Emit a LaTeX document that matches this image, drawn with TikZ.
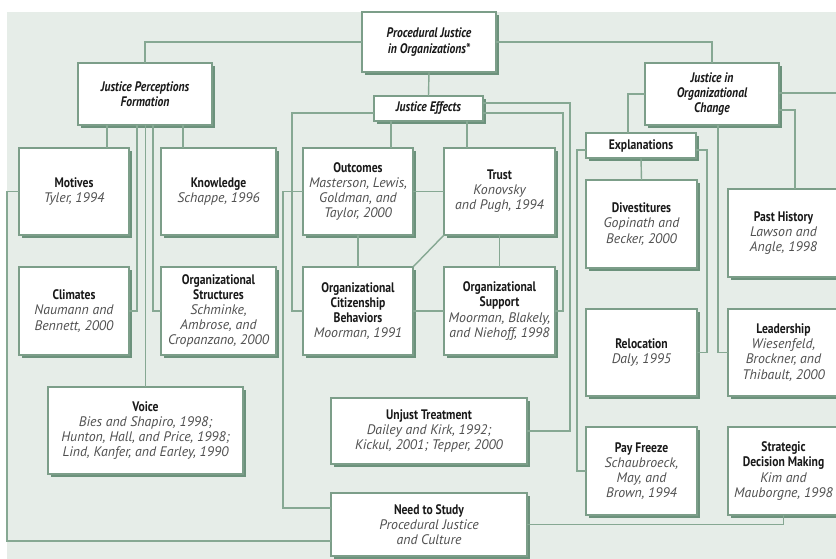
\documentclass[tikz,border=0pt]{standalone}
\usepackage{fontspec}
\setmainfont{PT Sans}
\newfontfamily\condfont[FakeStretch=0.84]{PT Sans}
\usetikzlibrary{shadows}
\definecolor{bg}{RGB}{230,237,232}
\definecolor{edge}{RGB}{124,158,137}
\definecolor{wire}{RGB}{134,168,147}
\definecolor{shade}{RGB}{108,146,124}
\definecolor{cite}{RGB}{80,80,80}
\definecolor{ink}{RGB}{25,25,25}
\newcommand{\ttl}[1]{{\condfont\bfseries\color{ink}#1}}
\newcommand{\hd}[1]{{\condfont\bfseries\itshape\color{ink}#1}}
\newcommand{\cit}[1]{{\itshape\color{cite}#1}}
\newcommand{\boxnode}[6]{\node[card, minimum width={(#4-#2)*0.03cm}, minimum height={(#5-#3)*0.03cm}] (#1) at ({(#2+#4)/2},{(#3+#5)/2}) {#6};}

\begin{document}
\begin{tikzpicture}[x=0.03cm, y=-0.03cm, font=\fontsize{11.8}{12.9}\selectfont,
  card/.style={draw=edge, line width=1.1pt, fill=white, inner sep=1pt, outer sep=0pt, align=center,
    drop shadow={shadow xshift=2.4pt, shadow yshift=-2.4pt, fill=shade, opacity=1}},
  wire/.style={draw=wire, line width=1.2pt}]
\clip (0,0) rectangle (836,559);
\fill[bg] (7,12) rectangle (836,559);
\boxnode{proc}{362}{12}{496}{72}{\hd{Procedural Justice}\\\hd{in Organizations*}}
\boxnode{jpf}{78}{63}{212}{125}{\hd{Justice Perceptions}\\\hd{Formation}}
\boxnode{joc}{645}{63}{779}{125}{\hd{Justice in}\\\hd{Organizational}\\\hd{Change}}
\boxnode{jeff}{374}{96}{483}{121}{\hd{Justice Effects}}
\boxnode{expl}{586}{133}{696}{158}{\ttl{Explanations}}
\boxnode{motives}{19}{148}{129}{235}{\ttl{Motives}\\\cit{Tyler, 1994}}
\boxnode{knowledge}{161}{148}{276}{235}{\ttl{Knowledge}\\\cit{Schappe, 1996}}
\boxnode{climates}{19}{267}{129}{355}{\ttl{Climates}\\\cit{Naumann and}\\\cit{Bennett, 2000}}
\boxnode{orgstruct}{161}{267}{276}{355}{\ttl{Organizational}\\\ttl{Structures}\\\cit{Schminke,}\\\cit{Ambrose, and}\\\cit{Cropanzano, 2000}}
\boxnode{voice}{48}{387}{243}{474}{\ttl{Voice}\\\cit{Bies and Shapiro, 1998;}\\\cit{Hunton, Hall, and Price, 1998;}\\\cit{Lind, Kanfer, and Earley, 1990}}
\boxnode{outcomes}{303}{148}{413}{235}{\ttl{Outcomes}\\\cit{Masterson, Lewis,}\\\cit{Goldman, and}\\\cit{Taylor, 2000}}
\boxnode{trust}{444}{148}{555}{235}{\ttl{Trust}\\\cit{Konovsky}\\\cit{and Pugh, 1994}}
\boxnode{ocb}{303}{267}{413}{355}{\ttl{Organizational}\\\ttl{Citizenship}\\\ttl{Behaviors}\\\cit{Moorman, 1991}}
\boxnode{orgsupport}{444}{267}{555}{355}{\ttl{Organizational}\\\ttl{Support}\\\cit{Moorman, Blakely,}\\\cit{and Niehoff, 1998}}
\boxnode{unjust}{331}{398}{527}{464}{\ttl{Unjust Treatment}\\\cit{Dailey and Kirk, 1992;}\\\cit{Kickul, 2001; Tepper, 2000}}
\boxnode{need}{331}{493}{527}{556}{\ttl{Need to Study}\\\cit{Procedural Justice}\\\cit{and Culture}}
\boxnode{divest}{586}{180}{697}{268}{\ttl{Divestitures}\\\cit{Gopinath and}\\\cit{Becker, 2000}}
\boxnode{reloc}{586}{309}{697}{396}{\ttl{Relocation}\\\cit{Daly, 1995}}
\boxnode{payfreeze}{586}{427}{697}{515}{\ttl{Pay Freeze}\\\cit{Schaubroeck,}\\\cit{May, and}\\\cit{Brown, 1994}}
\boxnode{past}{728}{189}{839}{277}{\ttl{Past History}\\\cit{Lawson and}\\\cit{Angle, 1998}}
\boxnode{leadership}{728}{309}{839}{396}{\ttl{Leadership}\\\cit{Wiesenfeld,}\\\cit{Brockner, and}\\\cit{Thibault, 2000}}
\boxnode{strategic}{728}{427}{839}{515}{\ttl{Strategic}\\\ttl{Decision Making}\\\cit{Kim and}\\\cit{Mauborgne, 1998}}
\coordinate (offright) at (840,93);
\draw[wire] (proc.west) -| (jpf.north);
\draw[wire] (proc.east) -| (joc.north);
\draw[wire] (proc.south) -- (jeff.north);
\draw[wire] (jpf.south -| 107,0) -- (motives.north -| 107,0);
\draw[wire] (jpf.south -| 183,0) -- (knowledge.north -| 183,0);
\draw[wire] (jpf.south -| 137,0) |- (climates.east);
\draw[wire] (jpf.south -| 153,0) |- (orgstruct.west);
\draw[wire] (jpf.south -| voice.north) -- (voice.north);
\draw[wire] (motives.west) -| (7,541) -- (need.west |- 0,541);
\draw[wire] (jeff.west |- 0,113) -- (292,113) |- (ocb.west);
\draw[wire] (outcomes.west) -| (283,508) -- (need.west |- 0,508);
\draw[wire] (outcomes.east) -- (trust.west);
\draw[wire] (jeff.south -| 391,0) -- (outcomes.north -| 391,0);
\draw[wire] (jeff.south -| 467,0) -- (trust.north -| 467,0);
\draw[wire] (outcomes.south) -- (ocb.north);
\draw[wire] (trust.south) -- (orgsupport.north);
\draw[wire] (trust.south west) -- (ocb.north east);
\draw[wire] (ocb.east) -- (orgsupport.west);
\draw[wire] (jeff.east |- 0,103) -- (570,103) |- (unjust.east);
\draw[wire] (jeff.east |- 0,113) -- (563,113) |- (orgsupport.east);
\draw[wire] (need.east) -| (strategic.south);
\draw[wire] (joc.west) -- (joc.west -| 628,0) -- (expl.north -| 628,0);
\draw[wire] (expl.south) -- (divest.north);
\draw[wire] (expl.west |- 0,150) -- (577,150) |- (payfreeze.west);
\draw[wire] (expl.east |- 0,150) -- (707,150) |- (reloc.east);
\draw[wire] (joc.south -| 718,0) |- (leadership.west);
\draw[wire] (joc.east |- 0,110) -| (past.north -| 795,0);
\draw[wire] (joc.east |- 0,93) -- (offright);
\end{tikzpicture}
\end{document}
